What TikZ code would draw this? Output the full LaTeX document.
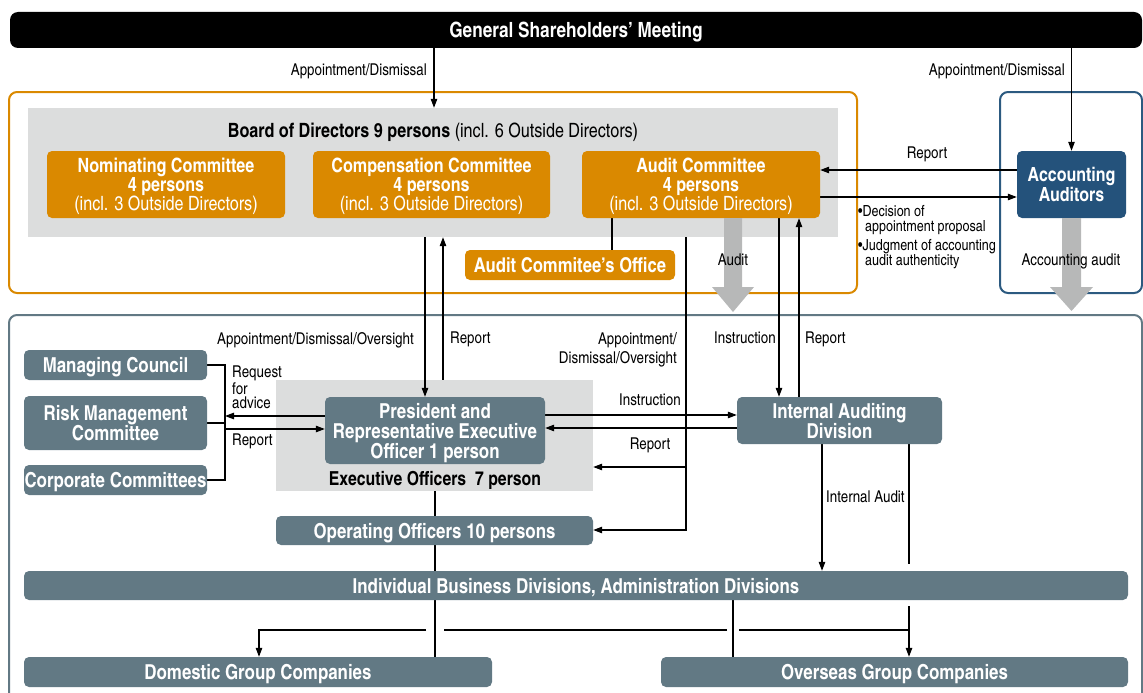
\documentclass[tikz,border=0pt]{standalone}
\usepackage{fontspec}
\setmainfont{texgyreheroscn}[Extension=.otf, UprightFont=*-regular, BoldFont=*-bold, ItalicFont=*-italic, BoldItalicFont=*-bolditalic]
\usetikzlibrary{arrows.meta}
\definecolor{orng}{RGB}{218,137,0}
\definecolor{slate}{RGB}{98,121,132}
\definecolor{dblue}{RGB}{36,82,123}
\definecolor{fblue}{RGB}{44,90,128}
\definecolor{lgray}{RGB}{220,221,221}
\definecolor{garr}{RGB}{183,184,184}
\pgfdeclarelayer{back}
\pgfdeclarelayer{mid}
\pgfsetlayers{back,mid,main}
\begin{document}
\begin{tikzpicture}[x=1pt,y=-1pt,
  box/.style={rounded corners=5pt, inner sep=0pt, align=center, text=white, text depth=0pt,
    font=\bfseries\fontsize{19.7}{18.5}\selectfont},
  obox/.style={box, fill=orng},
  sbox/.style={box, fill=slate, font=\bfseries\fontsize{20.6}{20}\selectfont},
  bgbox/.style={fill=lgray, inner sep=0pt},
  lbl/.style={font=\fontsize{16.3}{17}\selectfont, inner sep=0pt, text=black, text depth=0pt},
  arr/.style={-{Triangle[length=9pt,width=6.5pt]}, line width=1.1pt},
  ln/.style={line width=1.1pt},
  bigarr/.style={fill=garr}
]
\clip (0,0) rectangle (1143,693);

% ---------- frames and backgrounds ----------
\begin{pgfonlayer}{back}
\draw[orng, line width=2pt, rounded corners=8pt] (9,92) rectangle (857,293);
\draw[fblue, line width=2pt, rounded corners=8pt] (1000,92) rectangle (1142,293);
\draw[slate, line width=2pt, rounded corners=8pt] (9,315) rectangle (1142,730);
\node[bgbox, minimum width=810pt, minimum height=129pt] (board) at (433,172.5) {};
\node[bgbox, minimum width=317pt, minimum height=111pt] (exec) at (434.5,435.5) {};
\end{pgfonlayer}

% ---------- nodes ----------
\node[box, fill=black, rounded corners=8pt, minimum width=1132pt, minimum height=36pt,
  font=\bfseries\fontsize{21}{21}\selectfont] (gsm) at (576,30) {General Shareholders' Meeting};

\node[lbl, font=\fontsize{19.7}{20}\selectfont] (boardt) at (433,130) {\textbf{Board of Directors 9 persons} (incl. 6 Outside Directors)};

\node[obox, minimum width=238pt, minimum height=67pt] (nom) at (166,184.5)
  {Nominating Committee\\4 persons\\\textmd{(incl. 3 Outside Directors)}};
\node[obox, minimum width=237pt, minimum height=67pt] (comp) at (431.5,184.5)
  {Compensation Committee\\4 persons\\\textmd{(incl. 3 Outside Directors)}};
\node[obox, minimum width=238pt, minimum height=67pt] (aud) at (701,184.5)
  {Audit Committee\\4 persons\\\textmd{(incl. 3 Outside Directors)}};
\node[obox, minimum width=210pt, minimum height=30pt, font=\bfseries\fontsize{20.3}{20}\selectfont] (off) at (570,265) {Audit Commitee's Office};
\node[box, fill=dblue, minimum width=109pt, minimum height=67pt, font=\bfseries\fontsize{19.5}{17.5}\selectfont] (acc) at (1071.5,184.5) {Accounting\\Auditors};

\node[sbox, minimum width=220pt, minimum height=67pt] (pres) at (435,430.5)
  {President and\\Representative Executive\\Officer 1 person};
\node[lbl, font=\bfseries\fontsize{19.3}{20}\selectfont] (exect) at (435,478) {Executive Officers\ \ 7 person};
\node[sbox, minimum width=205pt, minimum height=47pt] (iad) at (839.5,420.5) {Internal Auditing\\Division};
\node[sbox, minimum width=183pt, minimum height=30pt] (mc) at (115.5,365) {Managing Council};
\node[sbox, minimum width=183pt, minimum height=54pt] (rm) at (115.5,423) {Risk Management\\Committee};
\node[sbox, minimum width=183pt, minimum height=30pt] (cc) at (115.5,480) {Corporate Committees};
\node[sbox, minimum width=317pt, minimum height=29pt] (oo) at (434.5,530.5) {Operating Officers 10 persons};
\node[sbox, minimum width=1104pt, minimum height=29pt] (ibd) at (576,585.5) {Individual Business Divisions, Administration Divisions};
\node[sbox, minimum width=468pt, minimum height=30pt] (dom) at (258,672) {Domestic Group Companies};
\node[sbox, minimum width=467pt, minimum height=30pt] (ovs) at (894.5,672) {Overseas Group Companies};

% ---------- big gray arrows ----------
\fill[bigarr] (724,0 |- aud.south) -- (742,0 |- aud.south) -- (742,287) -- (754,287) -- (733,312) -- (712,287) -- (724,287) -- cycle;
\fill[bigarr] (1062,0 |- acc.south) -- (1081,0 |- acc.south) -- (1081,287) -- (1093,287) -- (1071.5,311) -- (1050,287) -- (1062,287) -- cycle;
\node[lbl] (audl) at (733,260) {Audit};
\node[lbl] (accl) at (1071,260) {Accounting audit};

% ---------- connectors ----------
\begin{pgfonlayer}{mid}
\draw[arr] (434,0 |- gsm.south) -- (434,0 |- board.north);
\draw[arr] (1071.5,0 |- gsm.south) -- (acc.north);
\draw[arr] (acc.west |- 0,170) -- (aud.east |- 0,170);
\draw[arr] (aud.east |- 0,197) -- (acc.west |- 0,197);
\draw[ln] (612,0 |- aud.south) -- (612,0 |- off.north);
\draw[arr] (425,0 |- board.south) -- (425,0 |- pres.north);
\draw[arr] (443,0 |- exec.north) -- (443,0 |- board.south);
\draw[arr] (779,0 |- aud.south) -- (779,0 |- iad.north);
\draw[arr] (799,0 |- iad.north) -- (799,0 |- aud.south);
\coordinate (aj) at (686,467);
\draw[arr] (686,0 |- board.south) -- (686,530) -- (oo.east |- 0,530);
\draw[arr] (aj) -- (exec.east |- aj);
\draw[arr] (pres.east |- 0,415) -- (iad.west |- 0,415);
\draw[arr] (iad.west |- 0,428) -- (pres.east |- 0,428);
% bracket
\coordinate (br) at (225,416);
\draw[ln] (mc.east) -- (225,0 |- mc.east) -- (225,0 |- cc.east) -- (cc.east);
\draw[ln] (rm.east) -- (225,0 |- rm.east);
\draw[arr] (pres.west |- br) -- (br);
\draw[arr] (225,429) -- (pres.west |- 0,429);
% vertical trunk
\draw[ln] (435,0 |- exec.south) -- (435,0 |- dom.north);
\draw[ln] (733,0 |- ibd.south) -- (733,0 |- ovs.north);
\draw[arr] (822,0 |- iad.south) -- (822,0 |- ibd.north);
\draw[ln] (909,0 |- iad.south) -- (909,564);
\draw[arr] (909,606) -- (909,0 |- ovs.north);
\draw[ln] (909,630) -- (739,630);
\draw[ln] (727,630) -- (444,630);
\draw[arr] (426,630) -- (259,630) -- (259,0 |- dom.north);
\end{pgfonlayer}

% ---------- labels ----------
\node[lbl, anchor=east] (l1) at (427,69) {Appointment/Dismissal};
\node[lbl, anchor=east] (l2) at (1065,69) {Appointment/Dismissal};
\node[lbl] (l3) at (927,153) {Report};
\node[lbl, anchor=north west, align=left, font=\fontsize{15.3}{15.5}\selectfont] (l4) at (858,205)
  {\textbullet Decision of\\\hspace*{7pt}appointment proposal\\[3pt]\textbullet Judgment of accounting\\\hspace*{7pt}audit authenticity};
\node[lbl, anchor=east] (l5) at (414,338) {Appointment/Dismissal/Oversight};
\node[lbl, anchor=west] (l6) at (450,338) {Report};
\node[lbl, anchor=east, align=right, font=\fontsize{16.3}{19}\selectfont] (l7) at (677,348) {Appointment/\\Dismissal/Oversight};
\node[lbl, anchor=east] (l8) at (776,338) {Instruction};
\node[lbl, anchor=west] (l9) at (805,338) {Report};
\node[lbl] (l10) at (650,400) {Instruction};
\node[lbl] (l11) at (650,444) {Report};
\node[lbl, anchor=north west, align=left, font=\fontsize{16.3}{14.5}\selectfont] (l12) at (232,366) {Request\\for\\advice};
\node[lbl, anchor=west] (l13) at (232,440) {Report};
\node[lbl, anchor=west] (l14) at (826,497) {Internal Audit};
\end{tikzpicture}
\end{document}
